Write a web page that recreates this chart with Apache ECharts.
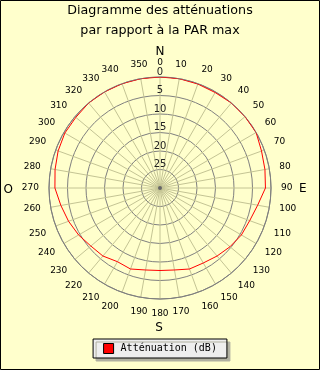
<!DOCTYPE html>
<html>
<head>
<meta charset="utf-8">
<script src="https://cdn.jsdelivr.net/npm/echarts@6/dist/echarts.min.js"></script>
<style>
html,body{margin:0;padding:0;background:#FFFFCC;}
#c{width:320px;height:370px;}
</style>
</head>
<body>
<div id="c"></div>
<script>
// Angles (degrees, clockwise from north)
var angles = [0,10,20,30,40,50,60,70,80,90,100,110,120,130,140,150,160,170,180,190,200,210,220,230,240,250,260,270,280,290,300,310,320,330,340,350,360];
// Attenuation in dB at each angle
var attenuation = [0,0,0.1,0.2,0,0,0,0.8,1.2,1.5,3.2,4.2,4.6,5.3,6.0,6.6,6.7,7.5,7.7,7.5,6.7,7.0,6.0,5.6,4.6,3.7,2.8,1.6,1.2,0.7,0.3,0.3,0,0,0,0,0];
// Radial tick labels
var radiusTicks = [0,5,10,15,20,25];
var compass = ['N','E','S','O'];
var seriesName = 'Atténuation (dB)';

var cx = 160, cy = 188, R = 111;
var chart = echarts.init(document.getElementById('c'));
var data = angles.map(function(a,i){ return [attenuation[i], a]; });
chart.setOption({
  backgroundColor: '#FFFFCC',
  animation: false,
  title: {
    text: 'Diagramme des atténuations\npar rapport à la PAR max',
    left: 'center', top: 1, padding: 0,
    textStyle: {fontFamily: 'DejaVu Sans', fontSize: 12.7, fontWeight: 'normal', color: '#000', lineHeight: 20}
  },
  polar: {center: [cx, cy], radius: R},
  angleAxis: {
    type: 'value', min: 0, max: 360, interval: 10, startAngle: 90, clockwise: true,
    axisLine: {show: true, lineStyle: {color: '#7f7f7f', width: 1}},
    axisTick: {show: false},
    axisLabel: {margin: 10, fontFamily: 'DejaVu Sans', fontSize: 9, color: '#000',
      formatter: function(v){ return v === 360 ? '' : String(v); }},
    splitLine: {show: true, lineStyle: {color: '#c4c494', width: 1}}
  },
  radiusAxis: {
    type: 'value', min: 0, max: 30, interval: 5, inverse: true,
    axisLine: {show: false}, axisTick: {show: false},
    axisLabel: {margin: 0, align: 'center', verticalAlign: 'bottom', fontFamily: 'DejaVu Sans', fontSize: 10, color: '#222',
      formatter: function(v){ return radiusTicks.indexOf(v) >= 0 ? String(v) : ''; }},
    splitLine: {show: true, lineStyle: {color: '#7f7f7f', width: 1}}
  },
  legend: {
    data: [seriesName], left: 'center', top: 339,
    backgroundColor: '#eeeeee', borderColor: '#000', borderWidth: 1,
    shadowColor: '#b0b0a0', shadowOffsetX: 3, shadowOffsetY: 3, shadowBlur: 0,
    padding: [4, 10, 4, 10], itemGap: 0, itemWidth: 10, itemHeight: 10,
    icon: 'rect',
    itemStyle: {borderColor: '#000', borderWidth: 1},
    textStyle: {fontFamily: 'DejaVu Sans Mono', fontSize: 10, color: '#000', padding: [0,0,0,2]}
  },
  graphic: [
    {type: 'rect', shape: {x: 0.5, y: 0.5, width: 319, height: 369}, style: {fill: 'none', stroke: '#000', lineWidth: 1}, silent: true, z: 100},
    {type: 'circle', shape: {cx: cx, cy: cy, r: 2}, style: {fill: '#666'}, z: 50},
    {type: 'text', x: cx, y: cy - 136, style: {text: compass[0], font: '12px DejaVu Sans', fill: '#000', align: 'center', verticalAlign: 'middle'}},
    {type: 'text', x: cx + 139, y: cy + 1, style: {text: compass[1], font: '12px DejaVu Sans', fill: '#000', align: 'left', verticalAlign: 'middle'}},
    {type: 'text', x: cx - 1, y: cy + 140, style: {text: compass[2], font: '12px DejaVu Sans', fill: '#000', align: 'center', verticalAlign: 'middle'}},
    {type: 'text', x: cx - 147, y: cy + 2, style: {text: compass[3], font: '12px DejaVu Sans', fill: '#000', align: 'right', verticalAlign: 'middle'}}
  ],
  series: [{
    name: seriesName, type: 'line', coordinateSystem: 'polar',
    data: data, showSymbol: false, symbol: 'none', smooth: false,
    lineStyle: {color: '#ff0000', width: 1}, itemStyle: {color: '#ff0000'}, z: 10
  }]
});
</script>
</body>
</html>
